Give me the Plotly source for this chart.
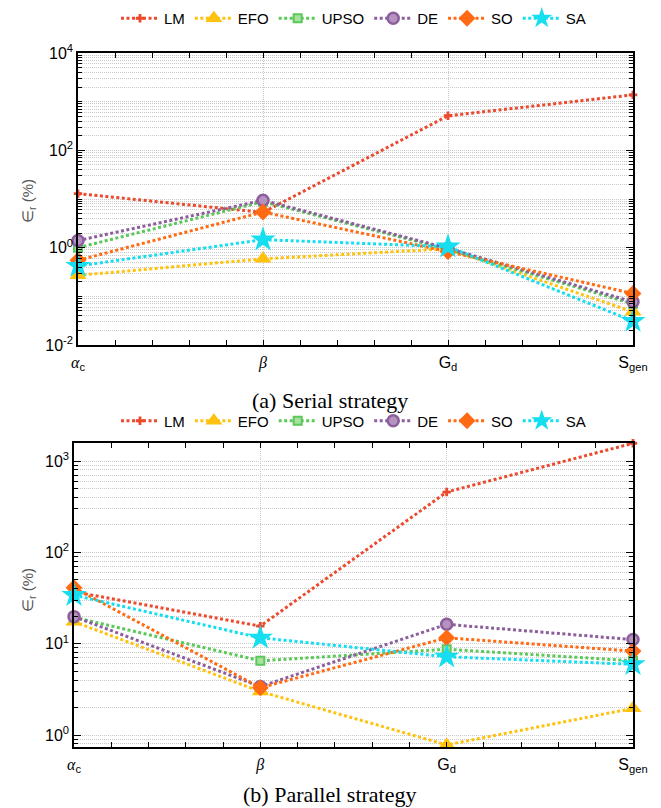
import plotly.graph_objects as go

# ---------------- data ----------------
categories = ["alpha_c", "beta", "G_d", "S_gen"]
tick_labels = [
    "<span style='font-family:Liberation Serif'><i>α</i></span><sub>c</sub>",
    "<span style='font-family:Liberation Serif'><i>β</i></span>",
    "G<sub>d</sub>",
    "S<sub>gen</sub>",
]
methods = ["LM", "EFO", "UPSO", "DE", "SO", "SA"]

serial_LM = [12.9, 5.3, 513, 1380]
serial_EFO = [0.27, 0.59, 0.95, 0.048]
serial_UPSO = [1.0, 8.8, 0.92, 0.07]
serial_DE = [1.4, 9.4, 0.97, 0.077]
serial_SO = [0.55, 5.4, 0.83, 0.114]
serial_SA = [0.42, 1.46, 1.05, 0.031]

parallel_LM = [37, 15.6, 458, 1567]
parallel_EFO = [17.4, 3.0, 0.78, 1.96]
parallel_UPSO = [19.5, 6.5, 8.7, 6.5]
parallel_DE = [19.8, 3.4, 16.3, 11.1]
parallel_SO = [41, 3.3, 11.6, 8.3]
parallel_SA = [34, 11.6, 7.2, 5.95]

serial = [serial_LM, serial_EFO, serial_UPSO, serial_DE, serial_SO, serial_SA]
parallel = [parallel_LM, parallel_EFO, parallel_UPSO, parallel_DE, parallel_SO, parallel_SA]

# ---------------- styles ----------------
colors = ["#EB4A2E", "#FFC20E", "#5CC85A", "#8C5E9C", "#FF6A13", "#14DEF0"]
markers = [
    dict(symbol="cross", size=7),
    dict(symbol="triangle-up", size=15),
    dict(symbol="square", size=8, color="#A8E29E", line=dict(color="#5CC85A", width=2)),
    dict(symbol="circle", size=11, color="#B592BF", line=dict(color="#8C5E9C", width=2.5)),
    dict(symbol="diamond", size=13),
    dict(symbol="star", size=19),
]

xpos = list(range(len(categories)))
W, H = 661, 808
FONT = "Liberation Sans, Arial, sans-serif"
SERIF = "Liberation Serif, Times New Roman, serif"

fig = go.Figure()
for data, xa, ya, leg in [(serial, "x", "y", "legend"), (parallel, "x2", "y2", "legend2")]:
    for i, name in enumerate(methods):
        mk = dict(markers[i])
        if "color" not in mk:
            mk["color"] = colors[i]
            mk["line"] = dict(width=0)
        fig.add_trace(go.Scatter(
            x=xpos, y=data[i], name=name, mode="lines+markers",
            line=dict(color=colors[i], width=3, dash="3px,2.5px"),
            marker=mk, xaxis=xa, yaxis=ya, legend=leg, cliponaxis=False,
        ))

grid_dash = "1px,1px"
grid_col = "#c9c9c9"

def xaxis_cfg(domain, anchor):
    return dict(
        domain=domain, anchor=anchor, range=[0, 3], automargin=False,
        tickmode="array", tickvals=xpos, ticktext=tick_labels,
        ticks="inside", ticklen=5, tickwidth=1, tickcolor="black",
        showline=True, linecolor="black", linewidth=1.5, mirror="ticks",
        showgrid=True, gridcolor=grid_col, griddash=grid_dash, gridwidth=1,
        zeroline=False, tickfont=dict(family=FONT, size=16, color="black"),
        ticklabelstandoff=2,
        minor=dict(dtick=0.2, tick0=0, ticks="inside", ticklen=5, tickcolor="black",
                   showgrid=False),
    )

def minor_vals(lo, hi):
    return [m * 10.0 ** k for k in range(lo, hi) for m in range(1, 10)]

def yaxis_cfg(domain, anchor, rng, tvals, ttext, mlo, mhi):
    return dict(
        domain=domain, anchor=anchor, type="log", range=rng, automargin=False,
        tickmode="array", tickvals=tvals, ticktext=ttext,
        ticks="inside", ticklen=7, tickwidth=1, tickcolor="black",
        showline=True, linecolor="black", linewidth=1.5, mirror="ticks",
        showgrid=True, gridcolor=grid_col, griddash=grid_dash, gridwidth=1,
        zeroline=False, tickfont=dict(family=FONT, size=16, color="black"),
        minor=dict(tickmode="array", tickvals=minor_vals(mlo, mhi), ticks="inside",
                   ticklen=4, tickcolor="black", showgrid=True, gridcolor=grid_col,
                   griddash=grid_dash, gridwidth=1),
    )

legend_common = dict(orientation="h", x=353.5 / W, xanchor="center", itemwidth=38,
                     font=dict(family=FONT, size=15, color="black"),
                     bgcolor="rgba(0,0,0,0)")

fig.update_layout(
    width=W, height=H, margin=dict(l=0, r=0, t=0, b=0),
    paper_bgcolor="white", plot_bgcolor="white",
    font=dict(family=FONT, size=15, color="black"),
    xaxis=xaxis_cfg([78 / W, 633 / W], "y"),
    yaxis=yaxis_cfg([1 - 345 / H, 1 - 53 / H], "x", [-2, 4],
                    [0.01, 1, 100, 10000],
                    ["10<sup>-2</sup>", "10<sup>0</sup>", "10<sup>2</sup>", "10<sup>4</sup>"],
                    -2, 4),
    xaxis2=xaxis_cfg([74 / W, 633 / W], "y2"),
    yaxis2=yaxis_cfg([1 - 747 / H, 1 - 443 / H], "x2", [-0.131, 3.198],
                     [1, 10, 100, 1000],
                     ["10<sup>0</sup>", "10<sup>1</sup>", "10<sup>2</sup>", "10<sup>3</sup>"],
                     -1, 4),
    legend=dict(y=1 - 2 / H, yanchor="top", **legend_common),
    legend2=dict(y=1 - 421 / H, yanchor="middle", **legend_common),
)

annotations = [
    dict(text="∈<sub>r</sub> (%)", x=28 / W, y=1 - 201 / H, textangle=-90),
    dict(text="∈<sub>r</sub> (%)", x=28 / W, y=1 - 590 / H, textangle=-90),
]
for a in annotations:
    fig.add_annotation(xref="paper", yref="paper", showarrow=False,
                       xanchor="center", yanchor="middle",
                       font=dict(family=FONT, size=15, color="#555555"), **a)

captions = [("(a) Serial strategy", 400), ("(b) Parallel strategy", 794)]
for txt, yp in captions:
    fig.add_annotation(text=txt, xref="paper", yref="paper", x=330 / W, y=1 - yp / H,
                       showarrow=False, xanchor="center", yanchor="middle",
                       font=dict(family=SERIF, size=22, color="black"))

fig.write_html("out.html", config={"displayModeBar": False},
               post_script="document.body.style.margin='0';document.body.style.padding='0';")
